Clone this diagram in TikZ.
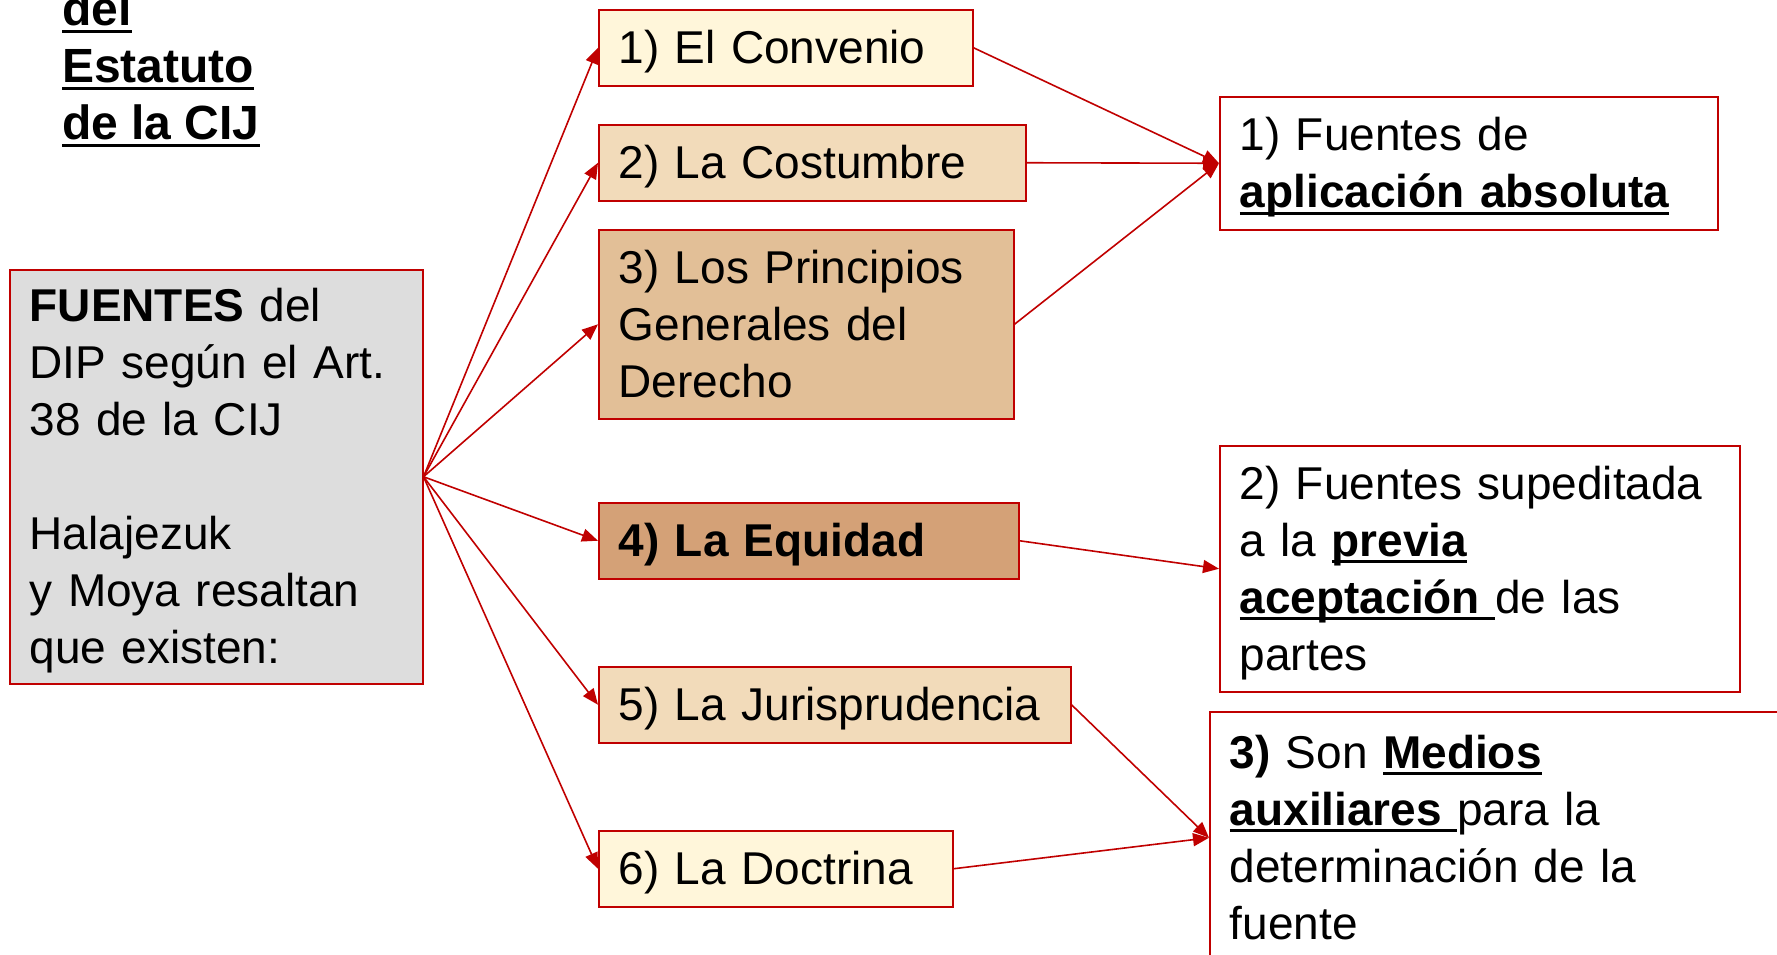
\documentclass[tikz,border=0pt]{standalone}
\usepackage{fontspec}
\setmainfont{Liberation Sans}
\usetikzlibrary{arrows.meta, positioning}

\definecolor{boxred}{HTML}{C00000}
\definecolor{cream}{HTML}{FFF6DA}
\definecolor{sand}{HTML}{F2DBBA}
\definecolor{tan}{HTML}{E2BF97}
\definecolor{clay}{HTML}{D4A177}
\definecolor{panel}{HTML}{DDDDDD}

\newsavebox\ulbox
\newcommand\ulbf[1]{\leavevmode\sbox\ulbox{\bfseries #1}\rlap{\rule[-7pt]{\wd\ulbox}{3pt}}\usebox\ulbox}

\begin{document}
\begin{tikzpicture}[
  x=1pt, y=-1pt,
  every node/.style={font=\fontsize{46}{57}\selectfont, align=left, inner ysep=0pt, inner xsep=20pt},
  boxline/.style={rectangle, draw=boxred, line width=1.5pt, anchor=north west,
    execute at begin node={\rule{0pt}{0.95em}}, execute at end node={\rule[-0.25em]{0pt}{0pt}}},
  source/.style={boxline, minimum height=76pt},
  result/.style={boxline},
  arrow/.style={-{Triangle[length=16pt, width=13pt]}, line width=1.6pt, boxred}
]
\useasboundingbox (0,0) rectangle (1777,954);

% Title (cut at the top)
\node[anchor=north west, inner sep=0pt, font=\fontsize{48}{57}\selectfont] (titulo) at (62,-9)
  {\ulbf{del}\\\ulbf{Estatuto}\\\ulbf{de la CIJ}};

% Main box
\node[source, fill=panel, text width=373pt, minimum height=414pt] (fuentes) at (9,269) {
  \textbf{FUENTES} del\\
  DIP según el Art.\\
  38 de la CIJ\\[57pt]
  Halajezuk\\
  y Moya resaltan\\
  que existen:
};

% Sources
\node[source, fill=cream, text width=334pt] (conv) at (598,9) {1) El Convenio};
\node[source, fill=sand, text width=387pt] (cost) at (598,124) {2) La Costumbre};
\node[source, fill=tan, text width=375pt, minimum height=189pt] (prin) at (598,229) {
  3) Los Principios\\
  Generales del\\
  Derecho
};
\node[source, fill=clay, text width=380pt] (equi) at (598,502) {\textbf{4) La Equidad}};
\node[source, fill=sand, text width=432pt] (juri) at (598,666) {5) La Jurisprudencia};
\node[source, fill=cream, text width=314pt] (doct) at (598,830) {6) La Doctrina};

% Groups
\node[result, text width=458pt, minimum height=133pt] (abs) at (1219,96) {
  1) Fuentes de\\
  \ulbf{aplicación absoluta}
};
\node[result, text width=480pt, minimum height=246pt] (prev) at (1219,445) {
  2) Fuentes supeditada\\
  a la \ulbf{previa}\\
  \ulbf{aceptación\ }de las\\
  partes
};
\node[result, text width=551pt, minimum height=252pt] (aux) at (1209,711) {
  \textbf{3)} Son \ulbf{Medios}\\
  \ulbf{auxiliares\ }para la\\
  determinación de la\\
  fuente
};

% Arrows from the main box
\draw[arrow] (fuentes.east) -- (conv.west);
\draw[arrow] (fuentes.east) -- (cost.west);
\draw[arrow] (fuentes.east) -- (prin.west);
\draw[arrow] (fuentes.east) -- (equi.west);
\draw[arrow] (fuentes.east) -- (juri.west);
\draw[arrow] (fuentes.east) -- (doct.west);

% Arrows to the groups
\draw[arrow] (conv.east) -- (abs.west);
\draw[arrow] (cost.east) -- (abs.west);
\draw[arrow] (prin.east) -- (abs.west);
\draw[arrow] (equi.east) -- (prev.west);
\draw[arrow] (juri.east) -- (aux.west);
\draw[arrow] (doct.east) -- (aux.west);

\end{tikzpicture}
\end{document}
